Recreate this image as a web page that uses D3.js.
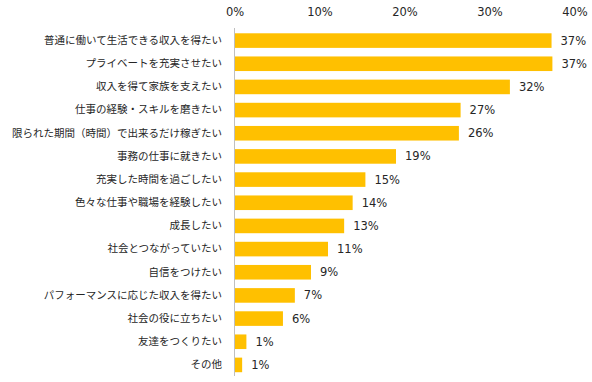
<!DOCTYPE html>
<html><head><meta charset="utf-8">
<script src="https://cdn.jsdelivr.net/npm/d3@7"></script>
<style>
body{margin:0;background:#fff;}
svg{display:block;}
</style></head>
<body>
<script>
const categories = ["普通に働いて生活できる収入を得たい","プライベートを充実させたい","収入を得て家族を支えたい","仕事の経験・スキルを磨きたい","限られた期間（時間）で出来るだけ稼ぎたい","事務の仕事に就きたい","充実した時間を過ごしたい","色々な仕事や職場を経験したい","成長したい","社会とつながっていたい","自信をつけたい","パフォーマンスに応じた収入を得たい","社会の役に立ちたい","友達をつくりたい","その他"];
const values = [37.3, 37.4, 32.4, 26.6, 26.4, 19.0, 15.4, 13.9, 12.9, 11.0, 9.0, 7.1, 5.7, 1.4, 0.9];
const valueLabels = ["37%","37%","32%","27%","26%","19%","15%","14%","13%","11%","9%","7%","6%","1%","1%"];
const tickValues = [0, 10, 20, 30, 40];
const tickLabels = ["0%","10%","20%","30%","40%"];

const W = 592, H = 382;
const svg = d3.select("body").append("svg").attr("width", W).attr("height", H);

const x = d3.scaleLinear().domain([0, 40]).range([234.5, 574.5]);
const y = d3.scaleBand().domain(categories).range([29, 376.5]).paddingInner(0.37).paddingOuter(0.185);

const font = "'Noto Sans CJK JP', 'Noto Sans', sans-serif";
const textColor = "#262626";

// top axis
const ax = svg.append("g").attr("transform", "translate(0,16)")
  .call(d3.axisTop(x).tickValues(tickValues).tickSize(0).tickPadding(0)
    .tickFormat((d, i) => tickLabels[i]));
ax.select(".domain").remove();
ax.selectAll("text").attr("font-family", "Verdana, 'DejaVu Sans', sans-serif").attr("font-size", "11.5px")
  .attr("fill", textColor).attr("dy", 0);

// bars
svg.append("g").selectAll("rect").data(values).join("rect")
  .attr("x", x(0) + 0.5)
  .attr("y", (d, i) => y(categories[i]))
  .attr("width", d => x(d) - x(0) - 0.5)
  .attr("height", y.bandwidth())
  .attr("fill", "#FFC000");

// zero line
svg.append("line")
  .attr("x1", x(0)).attr("x2", x(0))
  .attr("y1", 28).attr("y2", 376)
  .attr("stroke", "#BFBFBF").attr("stroke-width", 1);

// category labels
const yl = d3.axisLeft(y).tickSize(0).tickPadding(0);
const gl = svg.append("g").attr("transform", "translate(222,0)").call(yl);
gl.select(".domain").remove();
gl.selectAll("text").attr("font-family", font).attr("font-size", "10.5px").attr("fill", textColor);

// value labels
svg.append("g").selectAll("text").data(values).join("text")
  .attr("x", d => x(d) + 9)
  .attr("y", (d, i) => y(categories[i]) + y.bandwidth() / 2)
  .attr("dy", "0.35em")
  .attr("font-family", "Verdana, 'DejaVu Sans', sans-serif")
  .attr("font-size", "11.5px")
  .attr("fill", textColor)
  .text((d, i) => valueLabels[i]);
</script>
</body></html>
